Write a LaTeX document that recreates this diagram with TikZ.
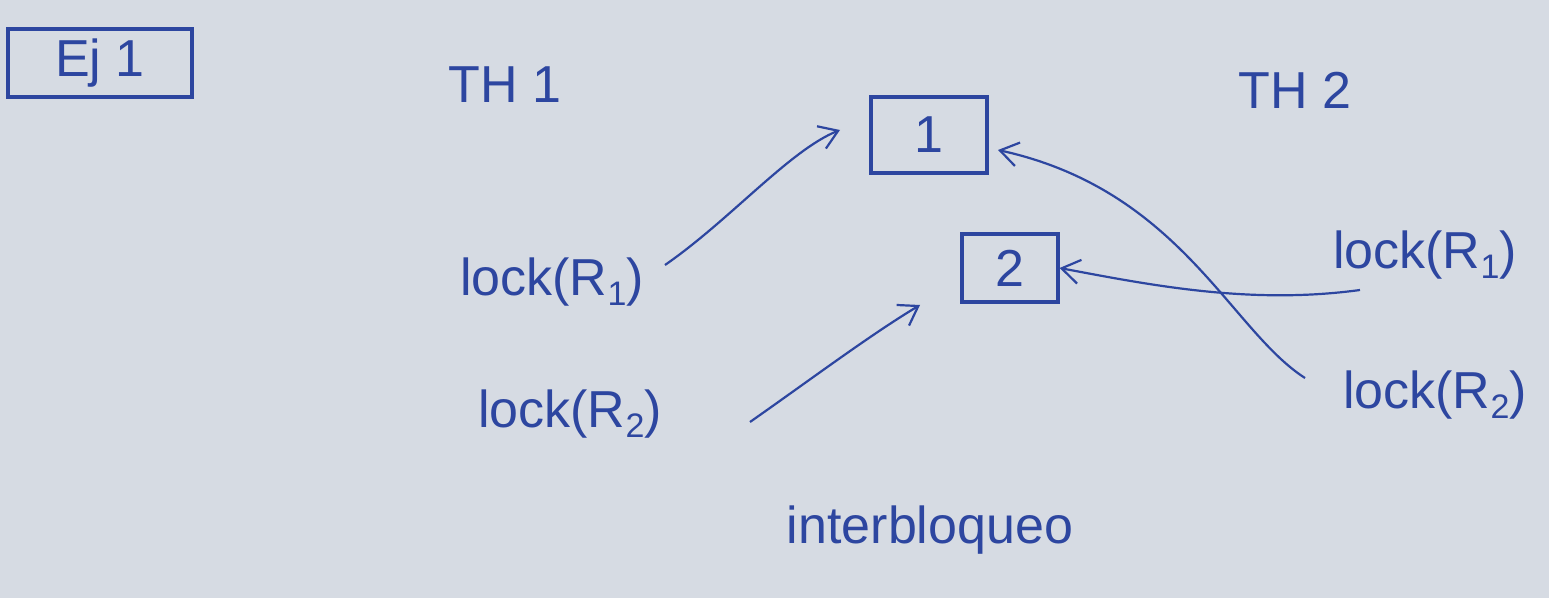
\documentclass[tikz,border=0pt]{standalone}
\usepackage{fontspec}
\setmainfont{Liberation Sans}
\usetikzlibrary{arrows.meta}
\definecolor{paper}{RGB}{214,219,227}
\definecolor{ink}{RGB}{45,70,160}
\newcommand{\sbs}[1]{\raisebox{-5pt}{\fontsize{17}{17}\selectfont #1}}
\tikzset{
  hw/.style={text=ink, font=\fontsize{26}{28}\selectfont, inner sep=2pt},
  boxed/.style={hw, draw=ink, line width=1.6pt, minimum height=34pt},
  conn/.style={draw=ink, line width=1.1pt, -{Straight Barb[length=9pt,width=12pt,line width=1.1pt]}},
}
\begin{document}
\begin{tikzpicture}[x=0.5pt,y=-0.5pt]
\fill[paper] (0,0) rectangle (1549,598);
\useasboundingbox (0,0) rectangle (1549,598);
\node[boxed, minimum width=92pt] (ej) at (100,63) {Ej 1};
\node[hw] (th1) at (505,85) {TH 1};
\node[hw] (th2) at (1295,90) {TH 2};
\node[boxed, minimum width=58pt, minimum height=38pt] (b1) at (929,135) {1};
\node[boxed, minimum width=48pt, minimum height=34pt] (b2) at (1010,268) {2};
\node[hw] (l1) at (552,282) {lock(R\sbs{1})};
\node[hw] (l2) at (570,414) {lock(R\sbs{2})};
\node[hw] (r1) at (1425,255) {lock(R\sbs{1})};
\node[hw] (r2) at (1435,395) {lock(R\sbs{2})};
\node[hw] (dl) at (930,530) {interbloqueo};
\coordinate (a1) at (840,130);
\coordinate (a2) at (920,305);
\coordinate (s1) at (665,265);
\coordinate (s2) at (750,422);
\coordinate (s3) at (1360,290);
\coordinate (s4) at (1305,378);
\coordinate (t4) at (998,150);
\draw[conn] (s1) .. controls (730,220) and (790,150) .. (a1);
\draw[conn] (s2) .. controls (810,380) and (870,335) .. (a2);
\draw[conn] (s3) .. controls (1250,305) and (1150,285) .. (b2.east);
\draw[conn] (s4) .. controls (1230,330) and (1180,190) .. (t4);
\end{tikzpicture}
\end{document}
